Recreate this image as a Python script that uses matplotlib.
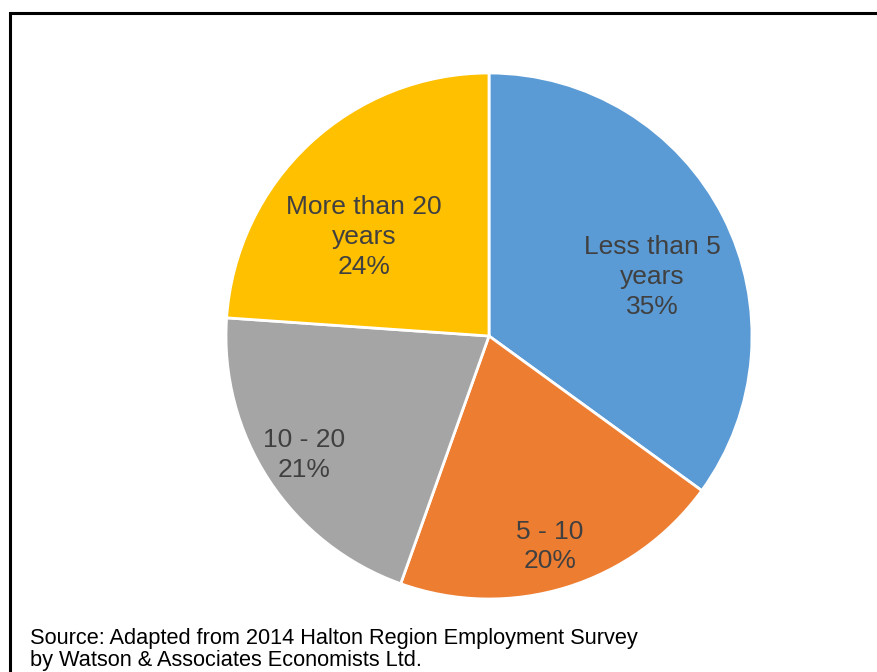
import matplotlib.pyplot as plt
from matplotlib.patches import Rectangle

categories = ['Less than 5\nyears', '5 - 10', '10 - 20', 'More than 20\nyears']
shares = [35.0, 20.45, 20.65, 23.9]
colors = ['#5B9BD5', '#ED7D31', '#A5A5A5', '#FFC000']
# label positions inside the pie, in units of radius
label_xy = [(0.62, 0.224), (0.232, -0.80), (-0.703, -0.452), (-0.475, 0.376)]
source = ('Source: Adapted from 2014 Halton Region Employment Survey\n'
          'by Watson & Associates Economists Ltd.')

plt.rcParams['font.family'] = ['Liberation Sans', 'DejaVu Sans']

W, H = 878, 672
fig = plt.figure(figsize=(W / 100, H / 100), dpi=100)
cx, cy, r = 489, 336, 263
ax = fig.add_axes([(cx - r) / W, (H - cy - r) / H, 2 * r / W, 2 * r / H])

wedges, _ = ax.pie(shares, colors=colors, startangle=90, counterclock=False,
                   radius=1, wedgeprops=dict(edgecolor='white', linewidth=2))
for cat, val, (x, y) in zip(categories, shares, label_xy):
    ax.text(x, y, '%s\n%.0f%%' % (cat, val), ha='center', va='center',
            fontsize=19, color='#404040', linespacing=1.3)
ax.set_xlim(-1, 1)
ax.set_ylim(-1, 1)
ax.set_aspect('equal')
ax.axis('off')

# outer frame of the chart area (right and bottom run off the image)
fig.patches.append(Rectangle((10.5 / W, -0.1), 1.0, (H - 12.5) / H + 0.1,
                             transform=fig.transFigure, fill=False,
                             edgecolor='black', linewidth=2.2))

fig.text(30 / W, (H - 666) / H, source, ha='left', va='baseline',
         fontsize=15.7, color='black', linespacing=1.08)

fig.savefig('out.png', dpi=100)
